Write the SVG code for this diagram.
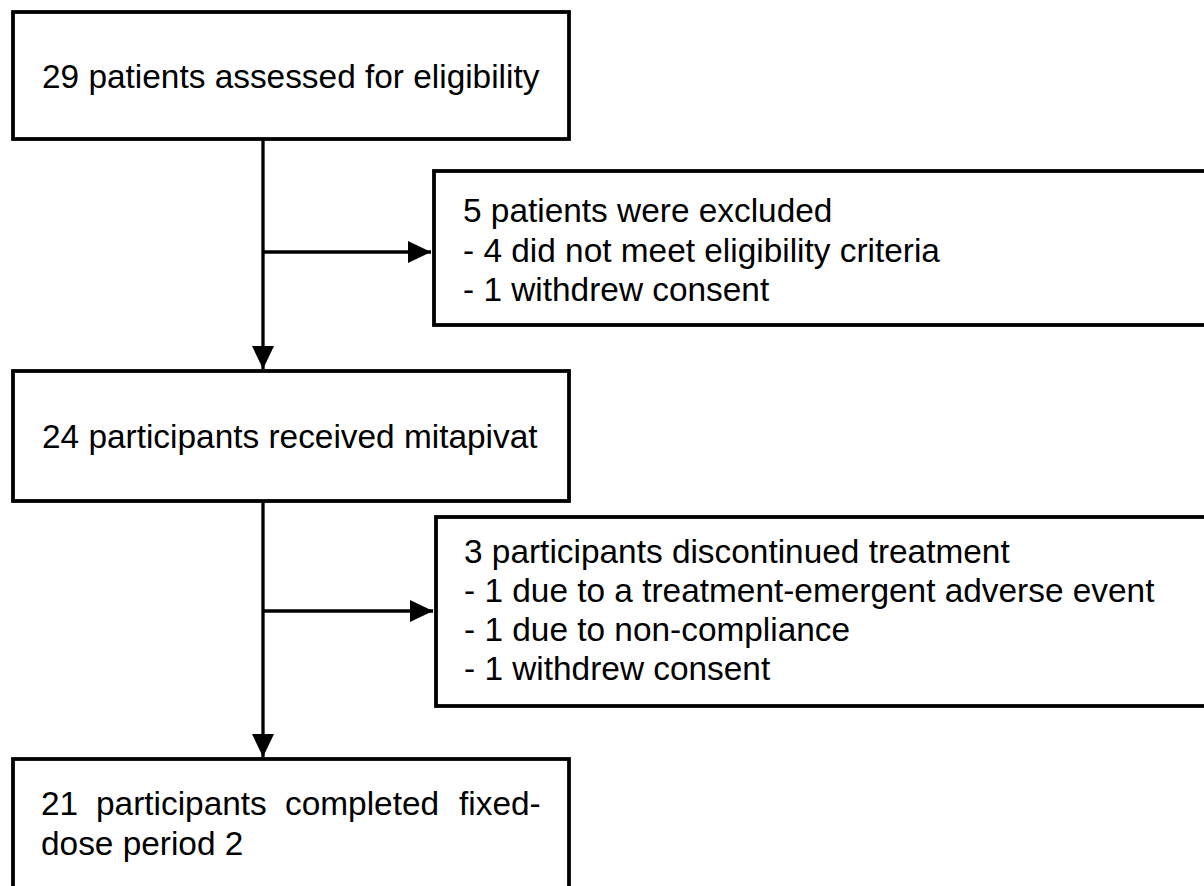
<svg xmlns="http://www.w3.org/2000/svg" width="1204" height="886" viewBox="0 0 1204 886">
<style>
.box{fill:#fff;stroke:#000;stroke-width:3.8}
.t{font-family:"Liberation Sans",Arial,sans-serif;font-size:33.4px;fill:#000}
.c{stroke:#000;stroke-width:3.3;fill:none}
</style>
<defs>
<marker id="ah" markerUnits="userSpaceOnUse" markerWidth="24" markerHeight="24" viewBox="0 0 24 24" refX="23" refY="12" orient="auto">
<path d="M0,1 L23,12 L0,23 Z" fill="#000"/>
</marker>
</defs>
<rect width="1204" height="886" fill="#fff"/>
<g id="connectors">
<line class="c" x1="263" y1="139" x2="263" y2="369" marker-end="url(#ah)"/>
<line class="c" x1="263" y1="252" x2="431" y2="252" marker-end="url(#ah)"/>
<line class="c" x1="263" y1="501" x2="263" y2="757" marker-end="url(#ah)"/>
<line class="c" x1="263" y1="611" x2="433" y2="611" marker-end="url(#ah)"/>
</g>
<g id="n1">
<rect class="box" x="13" y="12" width="556" height="127"/>
<text class="t" x="42" y="88">29 patients assessed for eligibility</text>
</g>
<g id="n2">
<rect class="box" x="434" y="171" width="780" height="154"/>
<text class="t" x="463" y="222">5 patients were excluded</text>
<text class="t" x="463" y="261.5">- 4 did not meet eligibility criteria</text>
<text class="t" x="463" y="301">- 1 withdrew consent</text>
</g>
<g id="n3">
<rect class="box" x="13" y="371" width="556" height="130"/>
<text class="t" x="42" y="448">24 participants received mitapivat</text>
</g>
<g id="n4">
<rect class="box" x="436" y="517" width="780" height="189"/>
<text class="t" x="464" y="563">3 participants discontinued treatment</text>
<text class="t" x="464" y="602">- 1 due to a treatment-emergent adverse event</text>
<text class="t" x="464" y="641">- 1 due to non-compliance</text>
<text class="t" x="464" y="680">- 1 withdrew consent</text>
</g>
<g id="n5">
<rect class="box" x="13" y="759" width="556" height="140"/>
<text class="t" y="815"><tspan x="41">21</tspan><tspan x="96">participants</tspan><tspan x="285">completed</tspan><tspan x="459">fixed-</tspan></text>
<text class="t" x="41" y="855">dose period 2</text>
</g>
</svg>
